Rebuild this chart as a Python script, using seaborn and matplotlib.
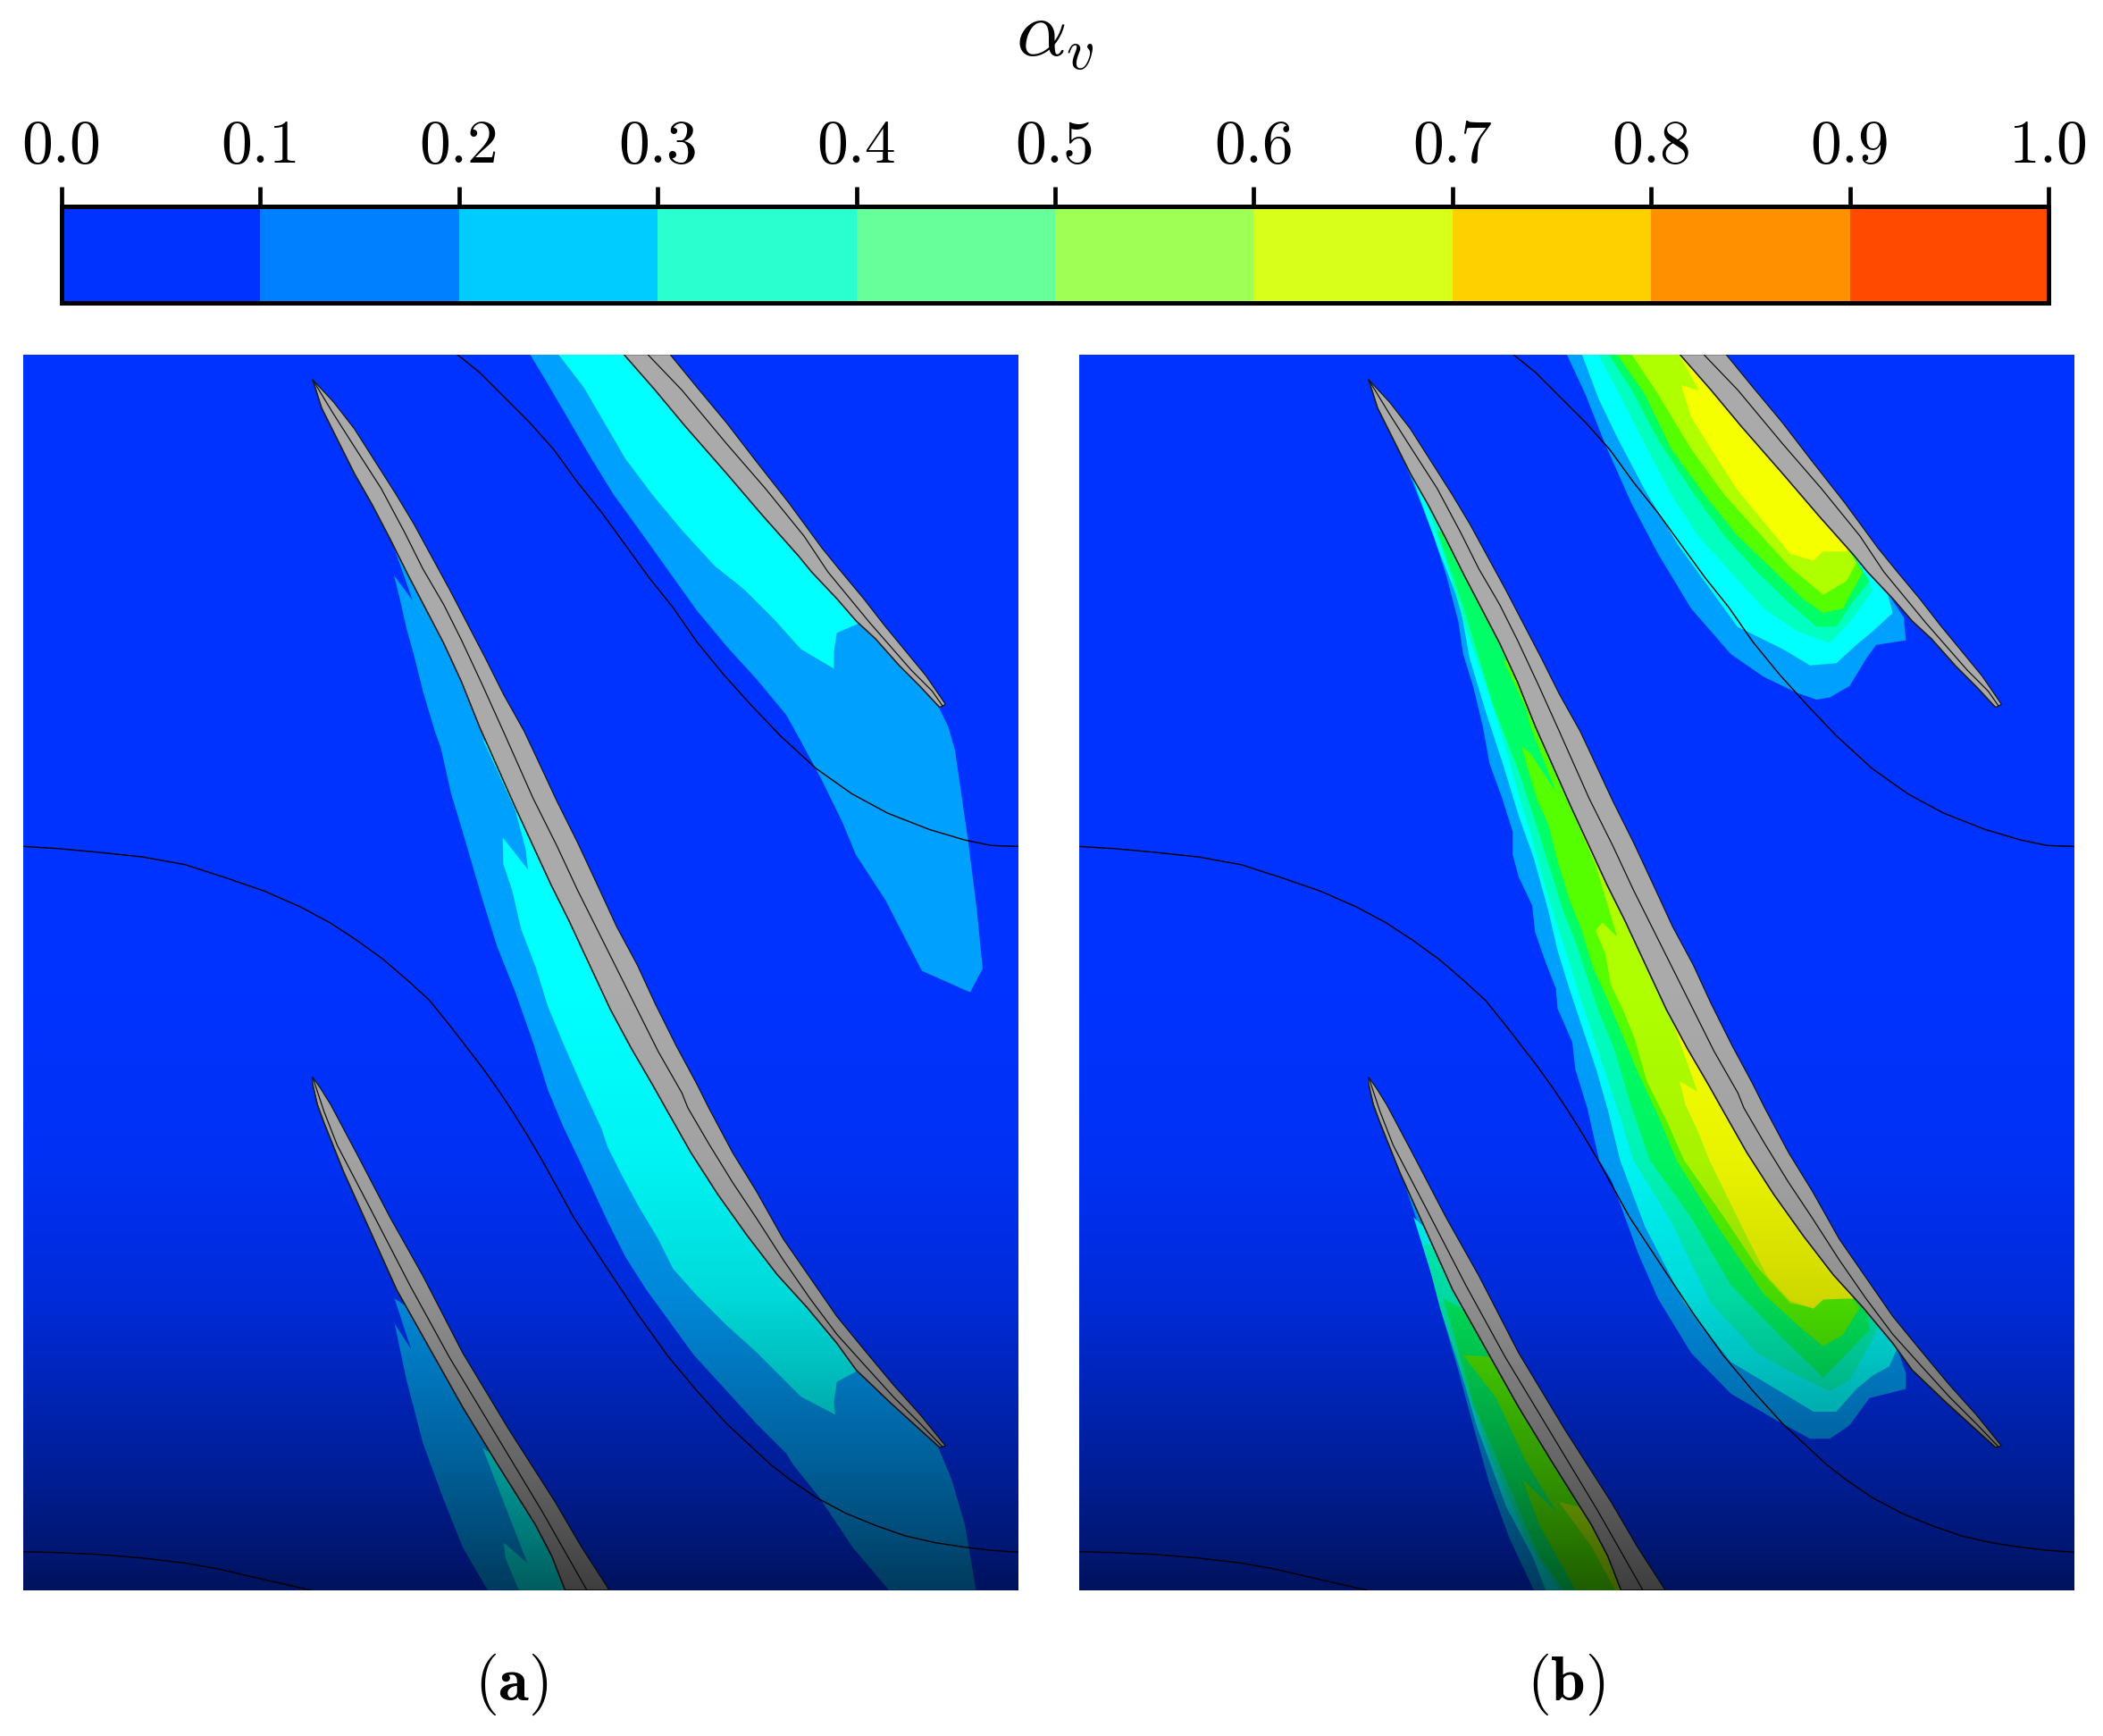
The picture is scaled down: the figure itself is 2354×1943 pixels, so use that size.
import numpy as np
import pandas as pd
import matplotlib
matplotlib.use("Agg")
import matplotlib.pyplot as plt
from matplotlib.colors import ListedColormap
import seaborn as sns

# ---------- data: colour scale ----------
LEVELS = [0.0, 0.1, 0.2, 0.3, 0.4, 0.5, 0.6, 0.7, 0.8, 0.9, 1.0]
TICK_LABELS = ["0.0", "0.1", "0.2", "0.3", "0.4", "0.5", "0.6", "0.7", "0.8", "0.9", "1.0"]
LEGEND_COLORS = ["#0033ff", "#0080ff", "#00ccff", "#2affd0", "#66ff99",
                 "#a0ff55", "#d8ff1a", "#ffd000", "#ff9000", "#ff4a00"]
BG = "#0033ff"
BANDS = ["#00a0ff", "#00ffff", "#00ffc0", "#00ff66", "#55ff00", "#b0ff00", "#f5ff00"]
BLADE_GREY = "#aaaaaa"

PANEL_W, PANEL_H = 1114, 1383
AX0, BX0, PY0 = 26, 1208, 397   # panel corners on the sheet
PA, PB = 35, 24                 # left margins of the wide crops


def U(pts, m=PA):  # upper wide crop of a panel
    p = np.asarray(pts, float)
    return np.column_stack([(p[:, 0] - m) / 1.352, p[:, 1] / 1.96 - 17])


def L(pts, m=PA):  # lower wide crop of a panel
    p = np.asarray(pts, float)
    return np.column_stack([(p[:, 0] - m) / 1.352, 753 + p[:, 1] / 1.977])


def C(pts, x0, y0, px0=AX0):  # close-up crop at 3x, corner x0,y0 on the sheet
    p = np.asarray(pts, float)
    return np.column_stack([x0 + p[:, 0] / 3 - px0, y0 + p[:, 1] / 3 - PY0])


# ---------- data: blades ----------
TOP_LEFT = [(655,20),(760,140),(860,260),(1000,420),(1120,560),(1240,695)]
TOP_LEFT_END = [(85,0),(170,90),(235,165),(300,225),(380,315),(450,385),(515,455)]
TOP_RIGHT = [(810,20),(900,130),(1000,250),(1100,380),(1210,520),(1320,670)]
TOP_RIGHT_END = [(185,0),(260,90),(330,180),(400,265),(470,350),(535,445)]
TOP_MID = [(735,20),(850,140),(1000,320),(1130,470),(1260,630)]
TOP_MID_END = [(140,0),(210,85),(280,170),(350,250),(420,330),(490,400),(525,450)]

MID_LEFT_A = [(30,15),(60,110),(110,210),(170,330),(230,435),(290,550),(350,670),(410,785),(470,900),(530,1030),(590,1180)]
MID_LEFT_B = [(110,310),(170,440),(230,570),(290,690),(360,840),(430,990),(500,1120),(570,1240)]
MID_LEFT_C = [(195,0),(280,150),(370,290),(470,430),(570,560),(670,670),(770,790),(835,880),(950,990),(1060,1090),(1115,1140)]
MID_RIGHT_A = [(30,15),(100,90),(170,180),(240,290),(310,400),(370,500),(430,610),(490,720),(550,835),(610,950),(670,1070),(740,1195)]
MID_RIGHT_B = [(180,140),(250,290),(320,430),(390,580),(450,710),(520,840),(580,970),(650,1110),(720,1240)]
MID_RIGHT_C = [(340,0),(420,150),(500,280),(590,440),(680,570),(770,700),(860,810),(960,930),(1050,1030),(1135,1135)]
MID_MID_A = [(30,15),(100,130),(170,240),(260,380),(340,530),(400,650),(470,770),(530,890),(600,1040),(670,1195)]
MID_MID_B = [(170,280),(250,440),(320,590),(380,710),(450,850),(520,990),(590,1130),(670,1270)]
MID_MID_C = [(270,0),(340,120),(420,250),(500,370),(590,510),(680,640),(770,760),(860,860),(960,970),(1050,1060),(1125,1138)]

LOW_LEFT = [(473,125),(480,170),(490,210),(505,265),(520,320),(540,385),(560,450),(580,515),(600,580),(625,645),(650,710),(675,775),(700,840),(725,900),(750,960),(780,1030),(810,1100),(835,1170),(855,1245)]
LOW_RIGHT = [(473,110),(485,135),(500,170),(520,225),(540,280),(565,350),(590,420),(615,485),(640,550),(670,635),(700,720),(735,805),(770,890),(805,970),(840,1050),(880,1150),(922,1245)]
LOW_MIDL = [(473,110),(490,185),(510,260),(535,330),(560,400),(590,485),(620,570),(650,650),(680,730),(715,815),(750,900),(785,985),(820,1070),(855,1160),(888,1245)]

# ---------- data: thin black curves ----------
CURVE_TOP_A = [(95,20),(170,80),(250,160),(340,250),(420,340),(500,450),(580,550),(660,660),(740,770),(820,870),(900,985),(990,1095),(1080,1195)]
CURVE_TOP_B = [(1000,70),(1120,180),(1240,265),(1360,330),(1500,385)]
CURVE_TOP_C = [(1460,1098),(1500,1110),(1541,1112)]
CURVE_MID_A = [(35,1112),(90,1117),(150,1125),(215,1135),(280,1152),(340,1180),(400,1210),(455,1245),(500,1280),(540,1318),(580,1360),(620,1410),(650,1450)]
CURVE_MID_B = [(683,0)]
CURVE_MID_C = [(0,1185),(50,1255),(100,1330),(150,1410),(200,1495)]
CURVE_MID_D = [(868,420)]
CURVE_MID_E = [(0,540),(100,690),(200,830),(300,950),(400,1060),(545,1195)]
CURVE_MID_F = [(1195,1000),(1235,1040),(1280,1075),(1325,1102),(1370,1125),(1415,1140),(1460,1150),(1500,1157),(1541,1161)]
CURVE_LOW = [(35,1160),(90,1162),(150,1166),(215,1174),(280,1185),(330,1198),(380,1215),(425,1230),(470,1245)]

# ---------- data: panel (a) outlines ----------
A_TOP_1A = [(340,20),(400,120),(470,240),(540,360),(620,490),(700,600),(800,740),(900,880),(1000,1000),(1100,1110),(1200,1230),(1250,1320),(1320,1450)]
A_TOP_1B = [(1275,1060),(1295,1130),(1340,1230),(1395,1385),(1468,1432),(1487,1380),(1478,1250),(1465,1100),(1445,900),(1435,850),(1420,805)]
A_TOP_2 = [(435,20),(520,130),(590,250),(660,370),(750,490),(850,610),(960,730),(1060,810),(1160,910),(1250,1010),(1360,1075),(1360,1020),(1370,955),(1440,925)]
A_MID_1A = [(235,440),(300,570),(365,755),(303,672),(320,740),(345,850),(370,940),(400,1060),(440,1195)]
A_MID_1B = [(40,1340),(75,1495)]
A_MID_1C = [(700,1080)]
A_MID_1D = [(0,620),(50,780),(110,930),(170,1100),(220,1260),(270,1380),(325,1495)]
A_MID_1E = [(0,380),(60,500),(130,610),(210,720),(290,830),(400,950),(500,1060),(600,1160),(625,1200)]
A_MID_1F = [(1240,1040),(1290,1150),(1345,1245),(1477,1245),(1460,1100),(1440,1000),(1420,930)]
A_MID_2A = [(0,80),(60,210),(110,320),(145,450),(153,520),(68,412),(70,500),(100,590),(130,720),(180,850),(220,980),(270,1100),(340,1260),(400,1390)]
A_MID_2B = [(0,130),(50,230),(110,340),(170,440),(220,540),(300,630),(400,730),(500,820),(590,910),(650,970),(765,1030),(760,990),(770,920),(835,885)]
A_LOW_1 = [(597,600),(622,712),(597,655),(615,780),(640,920),(670,1040),(700,1150),(738,1245),(855,1245)]
A_LOW_2 = [(730,930),(798,1185),(762,1140),(765,1175),(785,1245),(855,1245)]

# ---------- data: panel (b) outlines, top region ----------
B_TOP_1 = [(762,33),(790,120),(820,230),(860,360),(900,470),(950,590),(1010,690),(1060,740),(1110,775),(1140,790),(1160,785),(1190,760),(1215,700),(1230,670),(1275,660),(1272,610),(1245,550),(1210,500)]
B_TOP_2 = [(785,33),(810,130),(840,220),(880,330),(930,450),(980,550),(1020,630),(1090,680),(1130,715),(1170,710),(1200,670),(1225,640),(1255,600),(1248,560),(1210,500)]
B_TOP_3 = [(810,33),(845,130),(880,230),(920,340),(960,430),(1010,510),(1060,590),(1110,640),(1160,665),(1190,620),(1225,550),(1205,495)]
B_TOP_4 = [(825,33),(860,110),(900,220),(950,330),(1000,430),(1050,510),(1100,580),(1140,630),(1170,630),(1195,575),(1220,530),(1195,475)]
B_TOP_5 = [(838,33),(880,120),(920,240),(970,340),(1020,430),(1070,500),(1120,570),(1150,600),(1180,590),(1210,510),(1195,475)]
B_TOP_6 = [(860,33),(900,120),(950,240),(1000,340),(1050,420),(1100,500),(1150,560),(1185,530),(1200,490),(1190,465)]
B_TOP_7 = [(932,33),(962,112),(935,100),(950,170),(980,240),(1020,330),(1060,400),(1100,470),(1135,485),(1150,465),(1185,465)]

# ---------- data: panel (b) outlines, middle region ----------
B_MID_1A = [(510,250),(525,300),(560,430),(580,520),(598,620),(605,690),(620,760),(635,850),(645,930),(665,1010),(680,1080),(680,1130)]
B_MID_1B = [(0,545),(45,640),(55,730),(90,830),(125,920),(130,985),(180,1100),(190,1190),(230,1320),(270,1495)]
B_MID_1C = [(830,340),(870,500),(900,600),(950,720),(1010,810),(1080,870),(1130,910),(1160,910),(1190,880),(1220,820),(1275,800),(1275,765),(1262,710),(1250,640)]
B_MID_2A = [(530,310),(570,470),(600,580),(615,700),(640,820),(665,930)]
B_MID_2B = [(0,340),(50,480),(100,660),(130,790),(170,920),(210,1040),(260,1190),(300,1330),(340,1495)]
B_MID_2C = [(880,440),(940,610),(1010,740),(1090,810),(1135,850),(1170,850),(1200,800),(1225,770),(1250,750),(1262,710),(1250,640)]
B_MID_3A = [(545,340),(580,490),(610,640),(640,760),(670,900)]
B_MID_3B = [(0,270),(40,400),(90,580),(140,740),(190,900),(240,1050),(290,1200),(340,1350),(385,1495)]
B_MID_3C = [(920,430),(980,610),(1050,720),(1110,770),(1160,805),(1190,780),(1225,690),(1240,640)]
B_MID_4A = [(565,420),(605,585),(625,680),(650,800)]
B_MID_4B = [(0,190),(50,340),(100,500),(150,660),(190,760),(230,880),(270,1000),(320,1120),(370,1290),(440,1495)]
B_MID_4C = [(950,420),(1010,570),(1090,690),(1150,775),(1180,730),(1220,670),(1215,610)]
B_MID_5A = [(665,700),(700,810)]
B_MID_5B = [(40,40),(90,170),(125,260),(40,130),(10,105),(30,180),(60,280),(100,370),(130,490),(170,620),(210,720),(250,850),(300,960),(350,1080),(400,1200),(470,1350),(530,1495)]
B_MID_5C = [(990,440),(1060,590),(1120,670),(1150,705),(1180,680),(1205,620),(1190,590)]
B_MID_6B = [(170,300),(260,510),(330,745),(280,697),(258,725),(290,800),(310,910),(350,990),(390,1090),(430,1230),(500,1370),(555,1495)]
B_MID_6C = [(1000,420),(1050,530),(1100,610),(1135,620),(1150,600),(1185,595)]
B_MID_7B = [(420,830),(520,1040),(600,1265),(540,1230),(560,1310),(600,1395),(640,1495)]
B_MID_7C = [(1030,450),(1065,550),(1100,605),(1135,622),(1150,602),(1185,600)]

# ---------- data: panel (b) outlines, lower region ----------
B_LOW_1 = [(515,340),(545,470),(570,620),(598,760),(620,880),(645,1010),(675,1130),(712,1245),(845,1245)]
B_LOW_2 = [(530,420),(560,560),(590,700),(625,880),(670,1060),(710,1170),(730,1245),(845,1245)]
B_LOW_3 = [(545,480),(570,620),(610,800),(650,960),(700,1130),(750,1245),(845,1245)]
B_LOW_4 = [(575,600),(620,830),(670,1000),(720,1170),(758,1245),(845,1245)]
B_LOW_5 = [(605,725),(655,820),(700,960),(745,1070),(695,1000),(720,1100),(775,1245),(845,1245)]
B_LOW_6 = [(750,1050),(800,1150),(835,1245),(845,1245)]

# brightness falling towards the bottom of each panel
SHADE_Y = [0, 700, 900, 1050, 1150, 1250, 1320, 1383]
SHADE_V = [1.0, 1.0, 0.95, 0.85, 0.72, 0.58, 0.47, 0.36]

# close-up crop corners on the sheet
K1 = (480, 390)
K2 = (340, 420)
K3 = (540, 800)
K4 = (1700, 800)
K5 = (680, 1240)
K6 = (880, 640)

top_mid = np.vstack([C(TOP_MID, *K1), C(TOP_MID_END, *K6)])
mid_mid = np.vstack([C(MID_MID_A, *K2), C(MID_MID_B, *K3), C(MID_MID_C, *K5)])
low_mid = L(LOW_MIDL)


def close_on(edge, mid):
    """Close an outline back along the blade mid line (hidden by the blade)."""
    y0, y1 = edge[0, 1], edge[-1, 1]
    keep = mid[(mid[:, 1] >= y0 - 1) & (mid[:, 1] < y1)][::-1]
    return np.vstack([edge, keep])


def draw_panel(ax, regions):
    ax.set_facecolor(BG)
    for edge, mid, col in regions:
        poly = close_on(edge, mid)
        ax.fill(poly[:, 0], poly[:, 1], color=col, lw=0, zorder=2)

    blades = [
        (np.vstack([C(TOP_LEFT, *K1), C(TOP_LEFT_END, *K6)]),
         np.vstack([C(TOP_RIGHT, *K1), C(TOP_RIGHT_END, *K6)]), top_mid),
        (np.vstack([C(MID_LEFT_A, *K2), C(MID_LEFT_B, *K3), C(MID_LEFT_C, *K5)]),
         np.vstack([C(MID_RIGHT_A, *K2), C(MID_RIGHT_B, *K3), C(MID_RIGHT_C, *K5)]), mid_mid),
        (L(LOW_LEFT), L(LOW_RIGHT), low_mid),
    ]
    for left, right, mid in blades:
        outline = np.vstack([left, right[::-1]])
        ax.fill(outline[:, 0], outline[:, 1], facecolor=BLADE_GREY, edgecolor="#111111",
                lw=0.8, zorder=3)
        ax.plot(left[:, 0], left[:, 1], color="#222222", lw=1.1, zorder=4)
        ax.plot(mid[:, 0], mid[:, 1], color="#111111", lw=0.9, zorder=4)

    curves = [np.vstack([C(CURVE_TOP_A, *K1), C(CURVE_TOP_B, *K3), U(CURVE_TOP_C)]),
              np.vstack([U(CURVE_MID_A), L(CURVE_MID_B), C(CURVE_MID_C, *K3), L(CURVE_MID_D),
                         C(CURVE_MID_E, *K5), L(CURVE_MID_F)]),
              L(CURVE_LOW)]
    for curve in curves:
        frame = pd.DataFrame({"x": curve[:, 0], "y": curve[:, 1]})
        sns.lineplot(data=frame, x="x", y="y", sort=False, estimator=None, color="black",
                     lw=1.0, ax=ax, zorder=5)

    ys = np.arange(PANEL_H)
    rgba = np.zeros((PANEL_H, 1, 4))
    rgba[:, 0, 3] = 1 - np.interp(ys, SHADE_Y, SHADE_V)
    ax.imshow(rgba, extent=(0, PANEL_W, PANEL_H, 0), aspect="auto", zorder=8,
              interpolation="bilinear")

    ax.set_xlim(0, PANEL_W)
    ax.set_ylim(PANEL_H, 0)
    ax.set_xlabel("")
    ax.set_ylabel("")
    ax.set_xticks([])
    ax.set_yticks([])
    for s in ax.spines.values():
        s.set_visible(False)


sns.set_theme(style="white")
plt.rcParams["mathtext.fontset"] = "cm"
plt.rcParams["font.family"] = ["cmr10", "DejaVu Serif"]
plt.rcParams["axes.unicode_minus"] = False
plt.rcParams["axes.formatter.use_mathtext"] = True

W, H = 2354, 1943
fig = plt.figure(figsize=(W / 100, H / 100), dpi=100, facecolor="white")


def rect(x0, y0, x1, y1):
    return [x0 / W, 1 - y1 / H, (x1 - x0) / W, (y1 - y0) / H]


# colour bar
cax = fig.add_axes(rect(69, 231, 2293, 339))
sns.heatmap(np.array([LEVELS[:-1]]), cmap=ListedColormap(LEGEND_COLORS), vmin=0, vmax=1.0,
            cbar=False, ax=cax, linewidths=0, xticklabels=False, yticklabels=False)
cax.set_xticks(np.arange(len(LEVELS)))
cax.set_xticklabels(TICK_LABELS, fontsize=50, rotation=0, color="black")
cax.set_yticks([])
cax.tick_params(axis="x", which="both", top=True, bottom=False, labeltop=True, labelbottom=False,
                length=16, width=3.4, color="black", pad=10, direction="out")
for s in cax.spines.values():
    s.set_visible(True)
    s.set_color("black")
    s.set_linewidth(3.6)

fig.text(1181 / W, 1 - 41 / H, r"$\alpha_v$", fontsize=64, ha="center", va="center", color="black")

# panel (a)
ax_a = fig.add_axes(rect(AX0, PY0, AX0 + PANEL_W, PY0 + PANEL_H))
regions_a = [
    (np.vstack([C(A_TOP_1A, *K1), U(A_TOP_1B)]), top_mid, BANDS[0]),
    (C(A_TOP_2, *K1), top_mid, BANDS[1]),
    (np.vstack([C(A_MID_1A, *K2), C(A_MID_1B, *K1), U(A_MID_1C), C(A_MID_1D, *K3),
                C(A_MID_1E, *K5), L(A_MID_1F)]), mid_mid, BANDS[0]),
    (np.vstack([C(A_MID_2A, *K3), C(A_MID_2B, *K5)]), mid_mid, BANDS[1]),
    (L(A_LOW_1), low_mid, BANDS[0]),
    (L(A_LOW_2), low_mid, BANDS[1]),
]
draw_panel(ax_a, regions_a)

# panel (b)
ax_b = fig.add_axes(rect(BX0, PY0, BX0 + PANEL_W, PY0 + PANEL_H))
regions_b = []
for i, e in enumerate([B_TOP_1, B_TOP_2, B_TOP_3, B_TOP_4, B_TOP_5, B_TOP_6, B_TOP_7]):
    regions_b.append((U(e, PB), top_mid, BANDS[i]))
for i, (a, b, c) in enumerate([(B_MID_1A, B_MID_1B, B_MID_1C), (B_MID_2A, B_MID_2B, B_MID_2C),
                               (B_MID_3A, B_MID_3B, B_MID_3C), (B_MID_4A, B_MID_4B, B_MID_4C),
                               (B_MID_5A, B_MID_5B, B_MID_5C), (None, B_MID_6B, B_MID_6C),
                               (None, B_MID_7B, B_MID_7C)]):
    parts = [] if a is None else [U(a, PB)]
    parts += [C(b, K4[0], K4[1], BX0), L(c, PB)]
    regions_b.append((np.vstack(parts), mid_mid, BANDS[i]))
for i, e in enumerate([B_LOW_1, B_LOW_2, B_LOW_3, B_LOW_4, B_LOW_5, B_LOW_6]):
    regions_b.append((L(e, PB), low_mid, BANDS[i]))
draw_panel(ax_b, regions_b)

fig.text(572 / W, 1 - 1885 / H, r"$(\mathbf{a})$", fontsize=50, ha="center", va="center", color="black")
fig.text(1753 / W, 1 - 1885 / H, r"$(\mathbf{b})$", fontsize=50, ha="center", va="center", color="black")

fig.savefig("out.png", dpi=100, facecolor="white")
